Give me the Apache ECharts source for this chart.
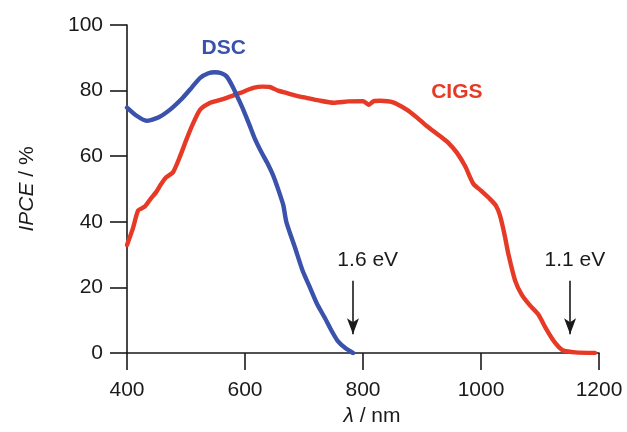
<!DOCTYPE html>
<html>
<head>
<meta charset="utf-8">
<script src="https://cdn.jsdelivr.net/npm/echarts@6/dist/echarts.min.js"></script>
<style>
html,body{margin:0;padding:0;background:#fff;}
#chart{width:627px;height:432px;}
</style>
</head>
<body>
<div id="chart"></div>
<script>
// Data
var dscLambda = [400,415,433,453,473,495,510,524,538,549,560,569,580,590,597,607,617,627,637,648,657,665,670,685,698,710,722,735,746,757,770,783];
var dscIPCE   = [74.8,72.5,70.8,71.8,74.2,77.9,81,83.9,85.3,85.6,85.3,84.3,80.9,77,74.2,69.8,65.2,61.5,58.2,54,49.5,45,40,32,24.9,20,15,10.8,7,3.7,1.5,0];

var cigsLambda = [400,410,419,430,440,450,456,466,478,490,501,512,524,541,555,569,592,614,630,642,656,670,686,704,725,750,775,800,810,818,829,851,874,890,908,930,945,959,973,987,1000,1015,1025,1032,1040,1046,1058,1069,1083,1097,1110,1123,1132,1140,1160,1193];
var cigsIPCE   = [32.9,38,43.5,44.6,47,49.2,51,53.5,55.1,60,65.2,70,74.2,76.3,77,77.8,79.3,80.8,81.2,81.1,80,79.3,78.5,77.8,77,76.3,76.7,76.8,75.7,76.8,76.9,76.4,74.2,72,69.2,66.2,64,61.1,57,51.6,49.5,47,45,42,36,30.5,22,17.8,14.5,11.8,7.5,3.7,1.8,0.7,0.2,0];

var xTicks = [400,600,800,1000,1200];
var yTicks = [0,20,40,60,80,100];

var arrowNames = ['1.6 eV','1.1 eV'];
var arrowLambda = [783,1151];
var arrowTop = [22,22];
var arrowTip = [5.7,5.7];
var arrowLabelLambda = [808,1159];
var arrowLabelY = [28.3,28.3];

var seriesNames = ['DSC','CIGS'];
var seriesLabelLambda = [564,959];
var seriesLabelY = [92.9,79.6];

var BLUE = '#3a52ab';
var RED = '#e63a26';
var INK = '#1a1a1a';
var FONT = 'Liberation Sans, Arial, Helvetica, sans-serif';

function zip(a,b){ return a.map(function(v,i){ return [v,b[i]]; }); }

var chart = echarts.init(document.getElementById('chart'), null, {renderer:'canvas'});
var axisText = {color:INK, fontSize:21, fontFamily:FONT, formatter:function(v){ return String(v); }};

function textPoints(names, xs, ys, colors, bold){
  return {
    type:'scatter', symbol:'circle', symbolSize:1, silent:true, z:5,
    itemStyle:{color:'rgba(0,0,0,0)'},
    data: names.map(function(n,i){
      return {value:[xs[i],ys[i]], name:n,
        label:{show:true, position:'inside', formatter:'{b}', color:colors[i], opacity:1,
          textBorderWidth:0, textBorderColor:'transparent',
          fontSize:21, fontWeight:bold?'bold':'normal', fontFamily:FONT}};
    })
  };
}

var option = {
  animation:false,
  backgroundColor:'#fff',
  grid:{left:127, right:28, top:25, bottom:77, containLabel:false},
  xAxis:{
    type:'value', min:xTicks[0], max:xTicks[xTicks.length-1], interval:200,
    axisLine:{show:true, lineStyle:{color:INK, width:1.6}},
    axisTick:{show:true, inside:false, length:17, lineStyle:{color:INK, width:1.6}},
    axisLabel:Object.assign({margin:27}, axisText),
    splitLine:{show:false},
    name:'{i|λ} / nm', nameLocation:'middle', nameGap:53,
    nameTextStyle:{color:INK, fontSize:21, fontFamily:FONT, padding:[0,0,0,18],
      rich:{i:{fontStyle:'italic', fontSize:21, fontFamily:FONT, color:INK}}}
  },
  yAxis:{
    type:'value', min:yTicks[0], max:yTicks[yTicks.length-1], interval:20,
    axisLine:{show:true, lineStyle:{color:INK, width:1.6}},
    axisTick:{show:true, inside:false, length:17, lineStyle:{color:INK, width:1.6}},
    axisLabel:Object.assign({margin:24}, axisText),
    splitLine:{show:false},
    name:'{i|IPCE} / %', nameLocation:'middle', nameGap:89,
    nameTextStyle:{color:INK, fontSize:21, fontFamily:FONT,
      rich:{i:{fontStyle:'italic', fontSize:21, fontFamily:FONT, color:INK}}}
  },
  series:[
    {
      name:seriesNames[0], type:'line', data:zip(dscLambda,dscIPCE),
      showSymbol:false, smooth:0.2, z:3,
      lineStyle:{color:BLUE, width:4.4, cap:'round', join:'round'}
    },
    {
      name:seriesNames[1], type:'line', data:zip(cigsLambda,cigsIPCE),
      showSymbol:false, smooth:0.2, z:2,
      lineStyle:{color:RED, width:4.4, cap:'round', join:'round'},
      markLine:{
        silent:true, symbol:['none','arrow'], symbolSize:[9,16],
        lineStyle:{color:INK, width:1.6, type:'solid'},
        label:{show:false},
        data: arrowLambda.map(function(l,i){
          return [{coord:[l,arrowTop[i]]},{coord:[l,arrowTip[i]]}];
        })
      }
    },
    textPoints(arrowNames, arrowLabelLambda, arrowLabelY, [INK,INK], false),
    textPoints(seriesNames, seriesLabelLambda, seriesLabelY, [BLUE,RED], true)
  ]
};
chart.setOption(option);
</script>
</body>
</html>
